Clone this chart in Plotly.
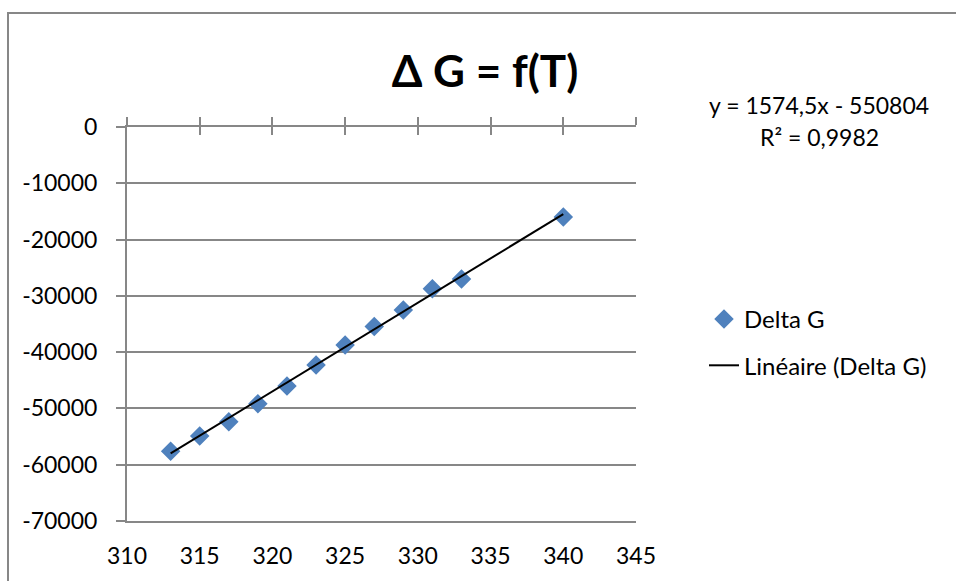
import plotly.graph_objects as go

# Data
temperature = [313, 315, 317, 319, 321, 323, 325, 327, 329, 331, 333, 340]
delta_g = [-57600, -54900, -52350, -49150, -46000, -42300, -38750, -35450, -32500, -28750, -27000, -16000]

# Trendline as displayed on the chart
slope = 1574.5
intercept = -550804
r_squared = "0,9982"

x_ticks = [310, 315, 320, 325, 330, 335, 340, 345]
y_ticks = [0, -10000, -20000, -30000, -40000, -50000, -60000, -70000]

trend_x = [min(temperature), max(temperature)]
trend_y = [slope * t + intercept for t in trend_x]

FONT = "Lato"
GRID = "#878787"
TXT = 23

fig = go.Figure()
fig.add_trace(go.Scatter(
    x=temperature, y=delta_g, mode="markers", name="Delta G",
    marker=dict(symbol="diamond", size=15, color="#4F81BD"),
    legendgroup="a",
))
fig.add_trace(go.Scatter(
    x=trend_x, y=trend_y, mode="lines", name="Linéaire (Delta G)",
    line=dict(color="black", width=2),
    legendgroup="b",
))
# helper traces so the top tick axes get drawn
fig.add_trace(go.Scatter(x=[None], y=[None], xaxis="x2", showlegend=False, hoverinfo="skip"))
fig.add_trace(go.Scatter(x=[None], y=[None], xaxis="x3", showlegend=False, hoverinfo="skip"))

fmt = lambda v: f"{v:.0f}"

fig.update_layout(
    width=956, height=581,
    margin=dict(l=127, r=320, t=127, b=60, autoexpand=False),
    paper_bgcolor="white", plot_bgcolor="white",
    font=dict(family=FONT, size=TXT, color="black"),
    title=dict(text="<b>Δ G = f(T)</b>", x=485 / 956, y=1 - 72 / 581,
               xref="container", yref="container", xanchor="center", yanchor="middle",
               font=dict(family=FONT, size=44, color="black")),
    xaxis=dict(range=[310, 345], tickvals=x_ticks, ticktext=[fmt(v) for v in x_ticks],
               showgrid=False, zeroline=False, showline=True, linecolor=GRID, linewidth=2,
               ticks="", ticklabelstandoff=13, tickfont=dict(size=TXT)),
    xaxis2=dict(range=[310, 345], overlaying="x", side="top", matches="x", tickvals=x_ticks,
                showticklabels=False, showgrid=False, zeroline=False, showline=True,
                linecolor=GRID, linewidth=2, ticks="outside", ticklen=8, tickwidth=2, tickcolor=GRID),
    xaxis3=dict(range=[310, 345], overlaying="x", side="top", matches="x", tickvals=x_ticks,
                showticklabels=False, showgrid=False, zeroline=False, showline=False,
                ticks="inside", ticklen=8, tickwidth=2, tickcolor=GRID),
    yaxis=dict(range=[-70000, 0], tickvals=y_ticks, ticktext=[fmt(v) for v in y_ticks],
               showgrid=True, gridcolor=GRID, gridwidth=2, zeroline=False,
               showline=True, linecolor=GRID, linewidth=2,
               ticks="outside", ticklen=9, tickwidth=2, tickcolor=GRID,
               ticklabelstandoff=14, tickfont=dict(size=TXT)),
    legend=dict(x=(704 - 127) / 509, y=(521 - 297) / 394, xanchor="left", yanchor="top",
                bgcolor="rgba(0,0,0,0)", traceorder="grouped", tracegroupgap=12,
                font=dict(family=FONT, size=24, color="black")),
    shapes=[dict(type="rect", xref="paper", yref="paper",
                 x0=(8 - 127) / 509, x1=2.0, y0=-0.5, y1=(521 - 13) / 394,
                 line=dict(color=GRID, width=2), fillcolor="rgba(0,0,0,0)", layer="below")],
    annotations=[
        dict(text=f"y = {str(slope).replace('.', ',')}x - {abs(intercept)}", xref="paper", yref="paper",
             x=(819 - 127) / 509, y=(521 - 105) / 394, showarrow=False,
             xanchor="center", yanchor="middle", font=dict(family=FONT, size=TXT)),
        dict(text=f"R² = {r_squared}", xref="paper", yref="paper",
             x=(819 - 127) / 509, y=(521 - 137) / 394, showarrow=False,
             xanchor="center", yanchor="middle", font=dict(family=FONT, size=TXT)),
    ],
)

fig.write_html("out.html", config={"displayModeBar": False},
               post_script="document.body.style.margin='0';document.body.style.overflow='hidden';")
